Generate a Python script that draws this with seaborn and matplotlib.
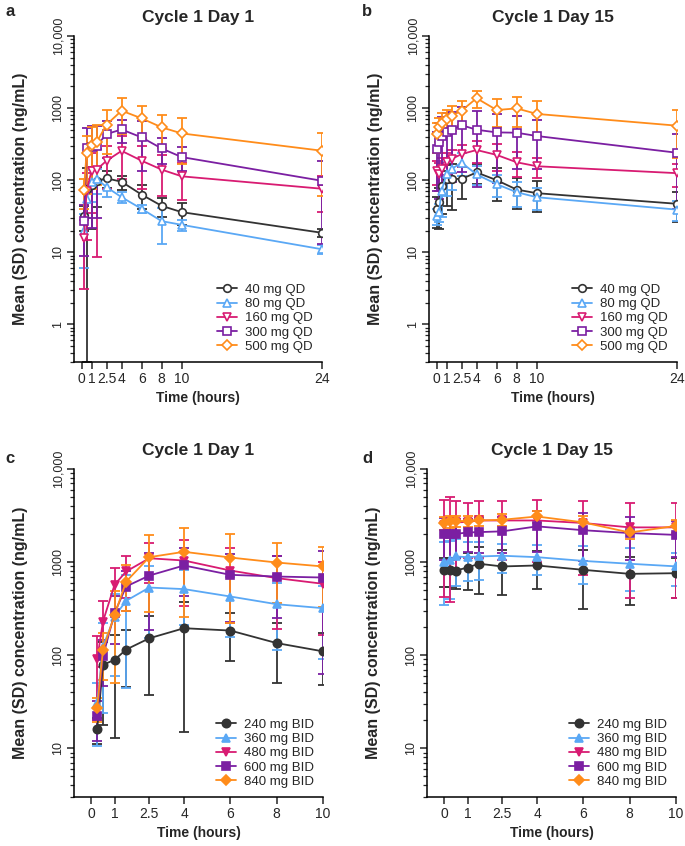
import matplotlib
matplotlib.use("Agg")
import matplotlib.pyplot as plt
import matplotlib.ticker as mticker
import numpy as np
import pandas as pd
import seaborn as sns

sns.set_theme(style="ticks")
plt.rcParams["font.family"] = ["Liberation Sans", "DejaVu Sans"]

# ---- data: mean and SD concentrations (ng/mL) ----
qd_labels = ["40 mg QD", "80 mg QD", "160 mg QD", "300 mg QD", "500 mg QD"]
bid_labels = ["240 mg BID", "360 mg BID", "480 mg BID", "600 mg BID", "840 mg BID"]

# a: QD, cycle 1 day 1
t_qd_d1 = [0.25, 0.5, 1, 1.5, 2.5, 4, 6, 8, 10, 24]
qd40_d1 = [32, 75, 86, 98, 106, 95, 63, 44, 36, 18.6]
qd40_d1_sd = [12, 74.7, 65, 56, 29, 21, 23, 13, 12, 2.5]
qd80_d1 = [20, 55, 95, 105, 80, 58, 40, 27, 24, 11]
qd80_d1_sd = [14, 25, 45, 40, 22, 10, 5, 14, 4, 1.5]
qd160_d1 = [15.7, 70, 135, 140, 186, 255, 186, 140, 113, 76]
qd160_d1_sd = [12.6, 55, 100, 131.5, 110, 150, 110, 80, 60, 40]
qd300_d1 = [27, 280, 292, 300, 436, 505, 392, 275, 209, 98]
qd300_d1_sd = [18, 250, 270, 270, 230, 175, 260, 110, 76, 85]
qd500_d1 = [72, 240, 310, 335, 590, 920, 720, 540, 445, 256]
qd500_d1_sd = [32, 175, 235, 250, 360, 480, 340, 260, 275, 195]

# b: QD, cycle 1 day 15
t_qd_d15 = [0, 0.25, 0.5, 1, 1.5, 2.5, 4, 6, 8, 10, 24]
qd40_d15 = [40, 49, 84, 104, 104, 104, 128, 100, 74, 66, 47]
qd40_d15_sd = [18, 28, 50, 60, 65, 50, 40, 48, 34, 30, 21]
qd80_d15 = [32, 36, 71, 121, 143, 175, 120, 88, 68, 58, 39]
qd80_d15_sd = [8, 10, 40, 60, 70, 60, 35, 30, 25, 20, 12]
qd160_d15 = [135, 121, 145, 177, 196, 230, 262, 224, 177, 156, 125]
qd160_d15_sd = [50, 50, 55, 60, 70, 80, 90, 90, 65, 50, 45]
qd300_d15 = [270, 335, 415, 470, 495, 580, 500, 460, 455, 410, 240]
qd300_d15_sd = [200, 280, 330, 380, 400, 450, 420, 370, 310, 265, 200]
qd500_d15 = [435, 540, 630, 700, 780, 920, 1370, 940, 990, 830, 570]
qd500_d15_sd = [195, 200, 220, 250, 300, 330, 360, 400, 440, 420, 370]

# c: BID, cycle 1 day 1
t_bid_d1 = [0.25, 0.5, 1, 1.5, 2.5, 4, 6, 8, 10]
bid240_d1 = [16, 79, 89, 115, 152, 195, 184, 135, 110]
bid240_d1_sd = [5, 61, 76, 70, 115, 180, 98, 85, 62]
bid360_d1 = [30.5, 124, 260, 384, 533, 513, 427, 353, 320]
bid360_d1_sd = [20, 100, 200, 340, 380, 300, 270, 240, 230]
bid480_d1 = [90, 230, 570, 793, 1100, 1040, 812, 673, 585]
bid480_d1_sd = [70, 155, 290, 380, 500, 700, 590, 480, 420]
bid600_d1 = [22, 97, 283, 547, 717, 920, 730, 700, 683]
bid600_d1_sd = [10, 50, 150, 250, 530, 490, 500, 450, 620]
bid840_d1 = [27, 114, 270, 617, 1130, 1290, 1120, 990, 898]
bid840_d1_sd = [8, 60, 220, 320, 840, 1030, 900, 630, 570]

# d: BID, cycle 1 day 15
t_bid_d15 = [0, 0.25, 0.5, 1, 1.5, 2.5, 4, 6, 8, 10]
bid240_d15 = [826, 826, 812, 875, 960, 898, 920, 826, 748, 760]
bid240_d15_sd = [280, 280, 300, 370, 510, 450, 410, 510, 400, 350]
bid360_d15 = [1000, 1050, 1150, 1130, 1150, 1170, 1130, 1030, 960, 900]
bid360_d15_sd = [650, 650, 600, 500, 500, 400, 400, 450, 470, 350]
bid480_d15 = [2520, 2670, 2670, 2700, 2800, 2800, 2800, 2630, 2360, 2360]
bid480_d15_sd = [2100, 2300, 1900, 1600, 1700, 1750, 1800, 1900, 1950, 1950]
bid600_d15 = [2010, 2010, 2010, 2080, 2100, 2140, 2420, 2200, 2050, 1960]
bid600_d15_sd = [950, 950, 900, 800, 850, 900, 1140, 1170, 1000, 820]
bid840_d15 = [2630, 2750, 2750, 2750, 2800, 2850, 3090, 2670, 2080, 2450]
bid840_d15_sd = [400, 400, 350, 350, 350, 400, 450, 450, 300, 400]

colors = ["#333333", "#5aa8f5", "#d81b72", "#7b1fa2", "#ff8c1a"]
markers = ["o", "^", "v", "s", "D"]

W, H = 685, 846
fig = plt.figure(figsize=(W / 100, H / 100), dpi=100)


def fmt_conc(v, pos):
    if v >= 10000:
        return "10,000"
    return f"{v:g}"


def draw_panel(rect, t, means, sds, labels, filled, xticks, xticklabels, xlim, ylim, yticks, title):
    l, r, top, bot = rect
    ax = fig.add_axes([l / W, 1 - bot / H, (r - l) / W, (bot - top) / H])
    ax.set_yscale("log")
    for i in range(len(means)):
        m = np.array(means[i], float)
        s = np.array(sds[i], float)
        lower = np.where(m - s > 0, s, m - ylim[0] * 0.5)
        ax.errorbar(t, m, yerr=[lower, s], fmt="none", ecolor=colors[i],
                    elinewidth=1.3, capsize=3.5, capthick=1.3, zorder=2)
        df = pd.DataFrame({"time": t, "conc": m})
        if filled:
            ms = 6 if markers[i] != "D" else 5
        else:
            ms = 5.5 if markers[i] != "D" else 5
        sns.lineplot(data=df, x="time", y="conc", ax=ax, color=colors[i],
                     marker=markers[i], markersize=ms, linewidth=1.3,
                     markerfacecolor="white" if not filled else colors[i],
                     markeredgecolor=colors[i], markeredgewidth=1.2,
                     label=labels[i], zorder=3)
    ax.set_xlim(*xlim)
    ax.set_ylim(*ylim)
    ax.set_xticks(xticks)
    ax.set_xticklabels(xticklabels)
    ax.yaxis.set_major_locator(mticker.FixedLocator(yticks))
    ax.yaxis.set_minor_locator(mticker.LogLocator(base=10, subs=np.arange(2, 10)))
    ax.yaxis.set_major_formatter(mticker.FuncFormatter(fmt_conc))
    ax.yaxis.set_minor_formatter(mticker.NullFormatter())
    ax.tick_params(axis="y", labelrotation=90, labelsize=9, length=5, width=1.1, pad=2)
    ax.tick_params(axis="y", which="minor", length=3, width=0.9)
    ax.tick_params(axis="x", labelsize=10, length=5, width=1.1, pad=2)
    for lab in ax.get_yticklabels():
        lab.set_va("center")
    sns.despine(ax=ax)
    for sp in ["left", "bottom"]:
        ax.spines[sp].set_linewidth(1.1)
        ax.spines[sp].set_color("black")
    ax.set_xlabel("Time (hours)", fontsize=10, fontweight="bold")
    ax.set_ylabel("Mean (SD) concentration (ng/mL)", fontsize=11.5, fontweight="bold")
    ax.yaxis.set_label_coords(-0.185, 0.5)
    ax.set_title(title, fontsize=12.5, fontweight="bold", pad=10)
    ax.legend(loc="lower right", frameon=False, fontsize=9.5, handlelength=1.5,
              handletextpad=0.6, labelspacing=0.15, borderaxespad=0.3)
    ax.grid(False)
    return ax


qd_xticks = [0, 1, 2.5, 4, 6, 8, 10, 24]
qd_xlabels = ["0", "1", "2.5", "4", "6", "8", "10", "24"]
bid_xticks = [0, 1, 2.5, 4, 6, 8, 10]
bid_xlabels = ["0", "1", "2.5", "4", "6", "8", "10"]

draw_panel((74, 322, 36, 362), t_qd_d1,
           [qd40_d1, qd80_d1, qd160_d1, qd300_d1, qd500_d1],
           [qd40_d1_sd, qd80_d1_sd, qd160_d1_sd, qd300_d1_sd, qd500_d1_sd],
           qd_labels, False, qd_xticks, qd_xlabels, (-0.75, 24), (0.3, 10000),
           [1, 10, 100, 1000, 10000], "Cycle 1 Day 1")
draw_panel((429, 677, 36, 362), t_qd_d15,
           [qd40_d15, qd80_d15, qd160_d15, qd300_d15, qd500_d15],
           [qd40_d15_sd, qd80_d15_sd, qd160_d15_sd, qd300_d15_sd, qd500_d15_sd],
           qd_labels, False, qd_xticks, qd_xlabels, (-0.75, 24), (0.3, 10000),
           [1, 10, 100, 1000, 10000], "Cycle 1 Day 15")
draw_panel((74, 323, 469, 797), t_bid_d1,
           [bid240_d1, bid360_d1, bid480_d1, bid600_d1, bid840_d1],
           [bid240_d1_sd, bid360_d1_sd, bid480_d1_sd, bid600_d1_sd, bid840_d1_sd],
           bid_labels, True, bid_xticks, bid_xlabels, (-0.75, 10), (3, 10000),
           [10, 100, 1000, 10000], "Cycle 1 Day 1")
draw_panel((427, 676, 469, 797), t_bid_d15,
           [bid240_d15, bid360_d15, bid480_d15, bid600_d15, bid840_d15],
           [bid240_d15_sd, bid360_d15_sd, bid480_d15_sd, bid600_d15_sd, bid840_d15_sd],
           bid_labels, True, bid_xticks, bid_xlabels, (-0.75, 10), (3, 10000),
           [10, 100, 1000, 10000], "Cycle 1 Day 15")

for letter, x, y in [("a", 5, 12), ("b", 362, 12), ("c", 5, 458), ("d", 362, 458)]:
    fig.text(x / W, 1 - y / H, letter, fontsize=12, fontweight="bold", va="center", ha="left")

fig.savefig("out.png", dpi=100)
